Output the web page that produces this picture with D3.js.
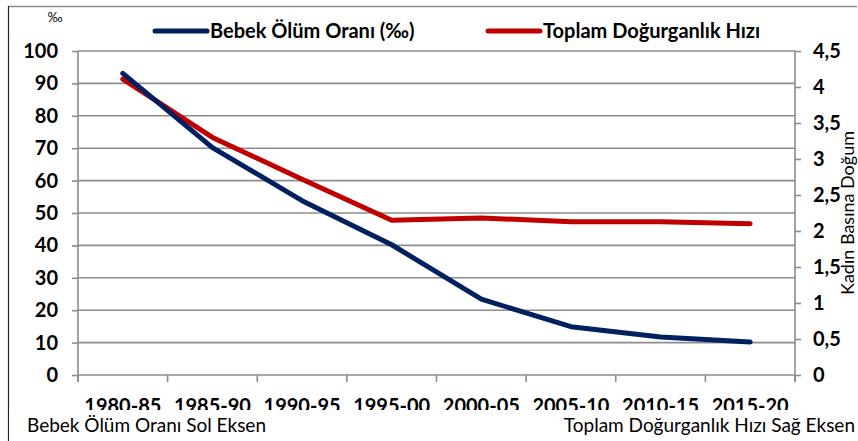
<!DOCTYPE html>
<html lang="tr">
<head>
<meta charset="utf-8">
<title>Bebek Ölüm Oranı ve Toplam Doğurganlık Hızı</title>
<script src="https://d3js.org/d3.v7.min.js"></script>
<style>
  body { margin: 0; background: #fff; }
  text { font-family: Lato, "Open Sans", sans-serif; fill: #000; }
</style>
</head>
<body>
<div id="chart"></div>
<script>
var periods = ["1980-85", "1985-90", "1990-95", "1995-00", "2000-05", "2005-10", "2010-15", "2015-20"];
var infantMortality = [93.1, 70.2, 53.8, 40.2, 23.4, 14.9, 11.7, 10.2];
var fertilityRate = [4.11, 3.30, 2.72, 2.15, 2.18, 2.13, 2.13, 2.10];
var leftTicks = [0, 10, 20, 30, 40, 50, 60, 70, 80, 90, 100];
var rightTicks = [0, 0.5, 1, 1.5, 2, 2.5, 3, 3.5, 4, 4.5];

var W = 858, H = 441;
var margin = { top: 51, right: 63, bottom: 66, left: 78 };
var width = W - margin.left - margin.right,
    height = H - margin.top - margin.bottom;

var svg = d3.select("#chart").append("svg")
    .attr("width", W).attr("height", H);

// frame
svg.append("line").attr("x1", 8).attr("x2", 857).attr("y1", 6.5).attr("y2", 6.5)
    .attr("stroke", "#8a8a8a").attr("stroke-width", 1.5);
svg.append("line").attr("x1", 8.5).attr("x2", 8.5).attr("y1", 6).attr("y2", H)
    .attr("stroke", "#222").attr("stroke-width", 1.2);

var g = svg.append("g").attr("transform", "translate(" + margin.left + "," + margin.top + ")");

var x = d3.scaleBand().domain(periods).range([0, width]);
var yL = d3.scaleLinear().domain([0, 100]).range([height, 0]);
var yR = d3.scaleLinear().domain([0, 4.5]).range([height, 0]);

var gridColor = "#8c8c8c";

// gridlines
g.append("g")
    .selectAll("line").data(leftTicks.slice(1)).enter().append("line")
    .attr("x1", 0).attr("x2", width)
    .attr("y1", function(d) { return yL(d); }).attr("y2", function(d) { return yL(d); })
    .attr("stroke", gridColor).attr("stroke-width", 1.6);

// left axis
var leftAxis = g.append("g")
    .call(d3.axisLeft(yL).tickValues(leftTicks).tickSize(6).tickPadding(14));
leftAxis.selectAll("text").style("font-size", "20px").style("font-weight", "bold");

// right axis
var rightAxis = g.append("g").attr("transform", "translate(" + width + ",0)")
    .call(d3.axisRight(yR).tickValues(rightTicks).tickSize(6).tickPadding(12)
        .tickFormat(function(d) { return String(d).replace(".", ","); }));
rightAxis.selectAll("text").style("font-size", "20px").style("font-weight", "bold");

// bottom axis
var bottomAxis = g.append("g").attr("transform", "translate(0," + height + ")")
    .call(d3.axisBottom(x).tickSize(0).tickPadding(24));
bottomAxis.selectAll("text").style("font-size", "20px").style("font-weight", "bold");
bottomAxis.selectAll(".bnd").data(d3.range(periods.length + 1)).enter().append("line")
    .attr("class", "bnd")
    .attr("x1", function(i) { return i * x.bandwidth(); })
    .attr("x2", function(i) { return i * x.bandwidth(); })
    .attr("y1", 0).attr("y2", 7);

[leftAxis, rightAxis, bottomAxis].forEach(function(a) {
    a.selectAll("path, line").attr("stroke", gridColor).attr("stroke-width", 1.6);
    a.select(".domain").attr("d", null);
});
g.append("line").attr("x1", 0).attr("x2", 0).attr("y1", 0).attr("y2", height + 7)
    .attr("stroke", gridColor).attr("stroke-width", 1.6);
g.append("line").attr("x1", width).attr("x2", width).attr("y1", 0).attr("y2", height + 7)
    .attr("stroke", gridColor).attr("stroke-width", 1.6);
g.append("line").attr("x1", 0).attr("x2", width).attr("y1", height).attr("y2", height)
    .attr("stroke", gridColor).attr("stroke-width", 1.6);

// lines
var cx = function(d, i) { return x(periods[i]) + x.bandwidth() / 2; };
g.append("path").datum(fertilityRate)
    .attr("fill", "none").attr("stroke", "#c00000").attr("stroke-width", 5)
    .attr("stroke-linecap", "round").attr("stroke-linejoin", "round")
    .attr("d", d3.line().x(cx).y(function(d) { return yR(d); }));
g.append("path").datum(infantMortality)
    .attr("fill", "none").attr("stroke", "#002060").attr("stroke-width", 5)
    .attr("stroke-linecap", "round").attr("stroke-linejoin", "round")
    .attr("d", d3.line().x(cx).y(function(d) { return yL(d); }));

// white box over the lower edge of the category labels
svg.append("rect").attr("x", 9.2).attr("y", 410).attr("width", W).attr("height", H - 410)
    .attr("fill", "#fff");

svg.append("text").attr("x", 27).attr("y", 432)
    .style("font-size", "19px").text("Bebek Ölüm Oranı Sol Eksen");
svg.append("text").attr("x", 855).attr("y", 432).attr("text-anchor", "end")
    .style("font-size", "19px").text("Toplam Doğurganlık Hızı Sağ Eksen");

// axis units
svg.append("text").attr("x", 55).attr("y", 22).attr("text-anchor", "middle")
    .style("font-size", "13px").text("‰");
svg.append("text")
    .attr("transform", "translate(854," + (margin.top + height / 2) + ") rotate(-90)")
    .attr("text-anchor", "middle")
    .style("font-size", "18px").text("Kadın Basına Doğum");

// legend
var legend = [
    { label: "Bebek Ölüm Oranı (‰)", color: "#002060", x: 155 },
    { label: "Toplam Doğurganlık Hızı", color: "#c00000", x: 488 }
];
var lg = svg.append("g").selectAll("g").data(legend).enter().append("g")
    .attr("transform", function(d) { return "translate(" + d.x + ",31)"; });
lg.append("line").attr("x1", 0).attr("x2", 52)
    .attr("stroke", function(d) { return d.color; }).attr("stroke-width", 5)
    .attr("stroke-linecap", "round");
lg.append("text").attr("x", 55).attr("dy", "0.35em")
    .style("font-size", "20px").style("font-weight", "bold")
    .text(function(d) { return d.label; });
</script>
</body>
</html>
